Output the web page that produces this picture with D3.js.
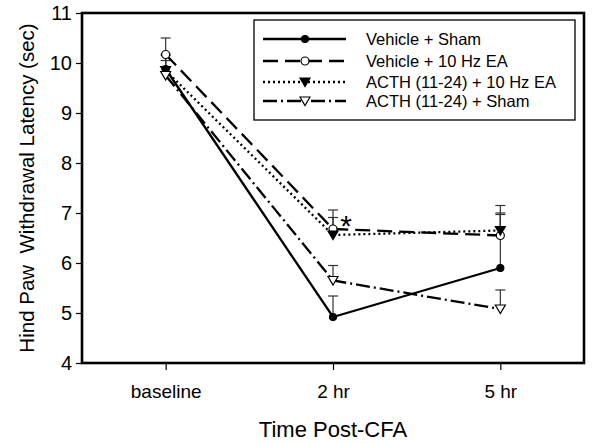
<!DOCTYPE html>
<html><head><meta charset="utf-8">
<script src="https://cdn.jsdelivr.net/npm/d3@7"></script>
<style>body{margin:0;background:#fff}svg{display:block}text{font-family:"Liberation Sans",Arial,sans-serif}</style>
</head><body><svg id="c" width="600" height="444"></svg>
<script>
const categories = ["baseline", "2 hr", "5 hr"];
const seriesNames = ["Vehicle + Sham", "Vehicle + 10 Hz EA", "ACTH (11-24) + 10 Hz EA", "ACTH (11-24) + Sham"];
const vehSham = [9.88, 4.92, 5.9];
const vehSham_err = [0.3, 0.42, 1.25];
const veh10 = [10.17, 6.68, 6.55];
const veh10_err = [0.33, 0.38, 0.42];
const acth10 = [9.85, 6.56, 6.65];
const acth10_err = [0.3, 0.35, 0.35];
const acthSham = [9.75, 5.65, 5.08];
const acthSham_err = [0.3, 0.3, 0.38];
const yTicks = [4, 5, 6, 7, 8, 9, 10, 11];

const svg = d3.select("#c");
const L = 82, R = 584, T = 13, B = 363;
const x = d3.scaleLinear().domain([-0.5, 2.5]).range([L, R]);
const y = d3.scaleLinear().domain([4, 11]).range([B, T]);

const series = [
  {name: seriesNames[0], v: vehSham, e: vehSham_err, dash: null, marker: "circle", fill: "#000"},
  {name: seriesNames[1], v: veh10, e: veh10_err, dash: "15,7", marker: "circle", fill: "#fff"},
  {name: seriesNames[2], v: acth10, e: acth10_err, dash: "2,3", marker: "tri", fill: "#000"},
  {name: seriesNames[3], v: acthSham, e: acthSham_err, dash: "14,4,2,4", marker: "tri", fill: "#fff"}
];

// axes
const yAxis = d3.axisLeft(y).tickValues(yTicks).tickSize(6).tickFormat(d3.format("d"));
const gy = svg.append("g").attr("transform", `translate(${L},0)`).call(yAxis);
gy.select(".domain").remove();
gy.selectAll("line").attr("stroke", "#000").attr("stroke-width", 1.2);
gy.selectAll("text").attr("font-size", 20).attr("fill", "#000").attr("dx", "-1");

const xAxis = d3.axisBottom(x).tickValues([0, 1, 2]).tickSize(7).tickFormat(i => categories[i]);
const gx = svg.append("g").attr("transform", `translate(0,${B})`).call(xAxis);
gx.select(".domain").remove();
gx.selectAll("line").attr("stroke", "#000").attr("stroke-width", 1.2);
gx.selectAll("text").attr("font-size", 19).attr("fill", "#000").attr("dy", "1.3em");

// frame
svg.append("rect").attr("x", L).attr("y", T).attr("width", R - L).attr("height", B - T)
  .attr("fill", "none").attr("stroke", "#000").attr("stroke-width", 2.6);

// error bars
series.forEach(s => {
  s.v.forEach((v, i) => {
    const cx = x(i), top = y(v + s.e[i]);
    svg.append("line").attr("x1", cx).attr("x2", cx).attr("y1", y(v)).attr("y2", top)
      .attr("stroke", "#333").attr("stroke-width", 1.2);
    svg.append("line").attr("x1", cx - 5).attr("x2", cx + 5).attr("y1", top).attr("y2", top)
      .attr("stroke", "#333").attr("stroke-width", 1.2);
  });
});

const line = d3.line().x((d, i) => x(i)).y(d => y(d));
function marker(g, s, cx, cy) {
  if (s.marker === "circle") {
    g.append("circle").attr("cx", cx).attr("cy", cy).attr("r", s.fill === "#000" ? 3.5 : 4)
      .attr("fill", s.fill).attr("stroke", "#000").attr("stroke-width", 1.2);
  } else {
    const r = 5;
    g.append("path").attr("d", `M${cx - r},${cy - r * 0.8}L${cx + r},${cy - r * 0.8}L${cx},${cy + r * 0.9}Z`)
      .attr("fill", s.fill).attr("stroke", "#000").attr("stroke-width", 1.2);
  }
}
series.forEach(s => {
  svg.append("path").datum(s.v).attr("d", line).attr("fill", "none").attr("stroke", "#000")
    .attr("stroke-width", 2.3).attr("stroke-dasharray", s.dash);
});
series.forEach(s => {
  s.v.forEach((v, i) => marker(svg, s, x(i), y(v)));
});

// asterisk
svg.append("text").attr("x", 346).attr("y", 236).attr("text-anchor", "middle")
  .attr("font-size", 30).attr("fill", "#000").text("*");

// legend
const lg = svg.append("g");
lg.append("rect").attr("x", 254).attr("y", 20).attr("width", 321).attr("height", 100)
  .attr("fill", "#fff").attr("stroke", "#000").attr("stroke-width", 1.3);
const rowsY = [39, 61, 82, 101];
series.forEach((s, k) => {
  const yy = rowsY[k];
  lg.append("line").attr("x1", 263).attr("x2", 346).attr("y1", yy).attr("y2", yy)
    .attr("stroke", "#000").attr("stroke-width", 2.3).attr("stroke-dasharray", s.dash);
  marker(lg, s, 305, yy);
  lg.append("text").attr("x", 366).attr("y", yy + 6).attr("font-size", 16.5).attr("fill", "#000").text(s.name);
});

// axis titles
svg.append("text").attr("x", (L + R) / 2).attr("y", 437).attr("text-anchor", "middle")
  .attr("font-size", 22).attr("fill", "#000").text("Time Post-CFA");
svg.append("text").attr("transform", `translate(34,${(T + B) / 2}) rotate(-90)`)
  .attr("text-anchor", "middle").attr("font-size", 20.5).attr("fill", "#000")
  .attr("xml:space", "preserve").text("Hind Paw  Withdrawal Latency (sec)");
</script></body></html>
